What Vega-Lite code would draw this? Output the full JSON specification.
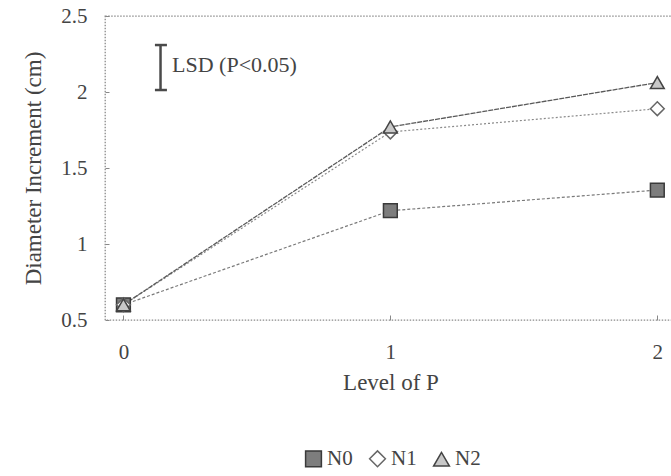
{
  "$schema": "https://vega.github.io/schema/vega-lite/v6.json",
  "autosize": {"type": "none"},
  "padding": {"left": 105, "top": 16, "right": 0, "bottom": 156},
  "width": 571,
  "height": 304,
  "background": "white",
  "config": {
    "font": "Liberation Serif, DejaVu Serif, serif",
    "view": {"stroke": "#8a8a8a", "strokeDash": [1.5, 1.5], "strokeWidth": 1.3}
  },
  "datasets": {
    "main": [
      {"P": 0, "D": 0.6, "N": "N0"},
      {"P": 1, "D": 1.219, "N": "N0"},
      {"P": 2, "D": 1.355, "N": "N0"},
      {"P": 0, "D": 0.6, "N": "N1"},
      {"P": 1, "D": 1.737, "N": "N1"},
      {"P": 2, "D": 1.89, "N": "N1"},
      {"P": 0, "D": 0.6, "N": "N2"},
      {"P": 1, "D": 1.77, "N": "N2"},
      {"P": 2, "D": 2.062, "N": "N2"}
    ],
    "lsd": [
      {"x": 0.139, "xa": 0.118, "xb": 0.163, "lo": 2.013, "hi": 2.309, "label": "LSD (P<0.05)", "tx": 0.182, "ty": 2.132}
    ]
  },
  "layer": [
    {
      "data": {"name": "main"},
      "transform": [{"filter": "datum.N === 'N0'"}],
      "mark": {"type": "line", "strokeWidth": 1.2, "color": "#7a7a7a", "strokeDash": [3, 2]},
      "encoding": {
        "x": {
          "field": "P", "type": "quantitative",
          "scale": {"domain": [-0.069, 2.07], "nice": false, "zero": false},
          "axis": {
            "values": [0, 1, 2], "format": "~g", "title": "Level of P", "grid": false, "domain": false,
            "tickSize": -5, "tickColor": "#888", "labelPadding": 26,
            "labelFontSize": 21, "labelColor": "#444", "labelFont": "Liberation Serif, DejaVu Serif, serif",
            "titleFontSize": 23, "titleColor": "#444", "titleFontWeight": "normal", "titlePadding": 9, "titleFont": "Liberation Serif, DejaVu Serif, serif"
          }
        },
        "y": {
          "field": "D", "type": "quantitative",
          "scale": {"domain": [0.5, 2.5], "nice": false, "zero": false},
          "axis": {
            "values": [0.5, 1, 1.5, 2, 2.5], "format": "~g", "title": "Diameter Increment (cm)", "grid": false, "domain": false,
            "tickSize": -4, "tickColor": "#888", "labelPadding": 22,
            "labelFontSize": 21, "labelColor": "#444", "labelFont": "Liberation Serif, DejaVu Serif, serif",
            "titleFontSize": 23, "titleColor": "#444", "titleFontWeight": "normal", "titlePadding": 15, "titleFont": "Liberation Serif, DejaVu Serif, serif"
          }
        }
      }
    },
    {
      "data": {"name": "main"},
      "transform": [{"filter": "datum.N === 'N1'"}],
      "mark": {"type": "line", "strokeWidth": 1.2, "color": "#8a8a8a", "strokeDash": [2, 2]},
      "encoding": {
        "x": {"field": "P", "type": "quantitative"},
        "y": {"field": "D", "type": "quantitative"}
      }
    },
    {
      "data": {"name": "main"},
      "transform": [{"filter": "datum.N === 'N2'"}],
      "mark": {"type": "line", "strokeWidth": 1.3, "color": "#5a5a5a", "strokeDash": [5, 1]},
      "encoding": {
        "x": {"field": "P", "type": "quantitative"},
        "y": {"field": "D", "type": "quantitative"}
      }
    },
    {
      "data": {"name": "main"},
      "mark": {"type": "point", "filled": false, "strokeWidth": 1.5, "size": 190, "opacity": 1},
      "encoding": {
        "x": {"field": "P", "type": "quantitative"},
        "y": {"field": "D", "type": "quantitative"},
        "shape": {
          "field": "N", "type": "nominal",
          "scale": {"domain": ["N0", "N1", "N2"], "range": ["square", "diamond", "triangle-up"]},
          "legend": {
            "orient": "none", "legendX": 198, "legendY": 432, "direction": "horizontal", "title": null,
            "symbolSize": 250, "symbolStrokeWidth": 1.5, "labelFontSize": 21, "labelFont": "Liberation Serif, DejaVu Serif, serif",
            "labelColor": "#444", "labelOffset": 3, "columnPadding": 13
          }
        },
        "fill": {
          "field": "N", "type": "nominal",
          "scale": {"domain": ["N0", "N1", "N2"], "range": ["#7d7d7d", "#ffffff", "#c8c8c8"]}
        },
        "stroke": {
          "field": "N", "type": "nominal",
          "scale": {"domain": ["N0", "N1", "N2"], "range": ["#3a3a3a", "#666666", "#444444"]}
        }
      }
    },
    {
      "data": {"name": "lsd"},
      "mark": {"type": "rule", "color": "#4a4a4a", "strokeWidth": 2.5},
      "encoding": {
        "x": {"field": "x", "type": "quantitative"},
        "y": {"field": "lo", "type": "quantitative"},
        "y2": {"field": "hi"}
      }
    },
    {
      "data": {"name": "lsd"},
      "mark": {"type": "rule", "color": "#4a4a4a", "strokeWidth": 2.5},
      "encoding": {
        "x": {"field": "xa", "type": "quantitative"},
        "x2": {"field": "xb"},
        "y": {"field": "lo", "type": "quantitative"}
      }
    },
    {
      "data": {"name": "lsd"},
      "mark": {"type": "rule", "color": "#4a4a4a", "strokeWidth": 2.5},
      "encoding": {
        "x": {"field": "xa", "type": "quantitative"},
        "x2": {"field": "xb"},
        "y": {"field": "hi", "type": "quantitative"}
      }
    },
    {
      "data": {"name": "lsd"},
      "mark": {"type": "text", "align": "left", "baseline": "alphabetic", "fontSize": 22, "font": "Liberation Serif, DejaVu Serif, serif", "color": "#444"},
      "encoding": {
        "x": {"field": "tx", "type": "quantitative"},
        "y": {"field": "ty", "type": "quantitative"},
        "text": {"field": "label"}
      }
    }
  ]
}
